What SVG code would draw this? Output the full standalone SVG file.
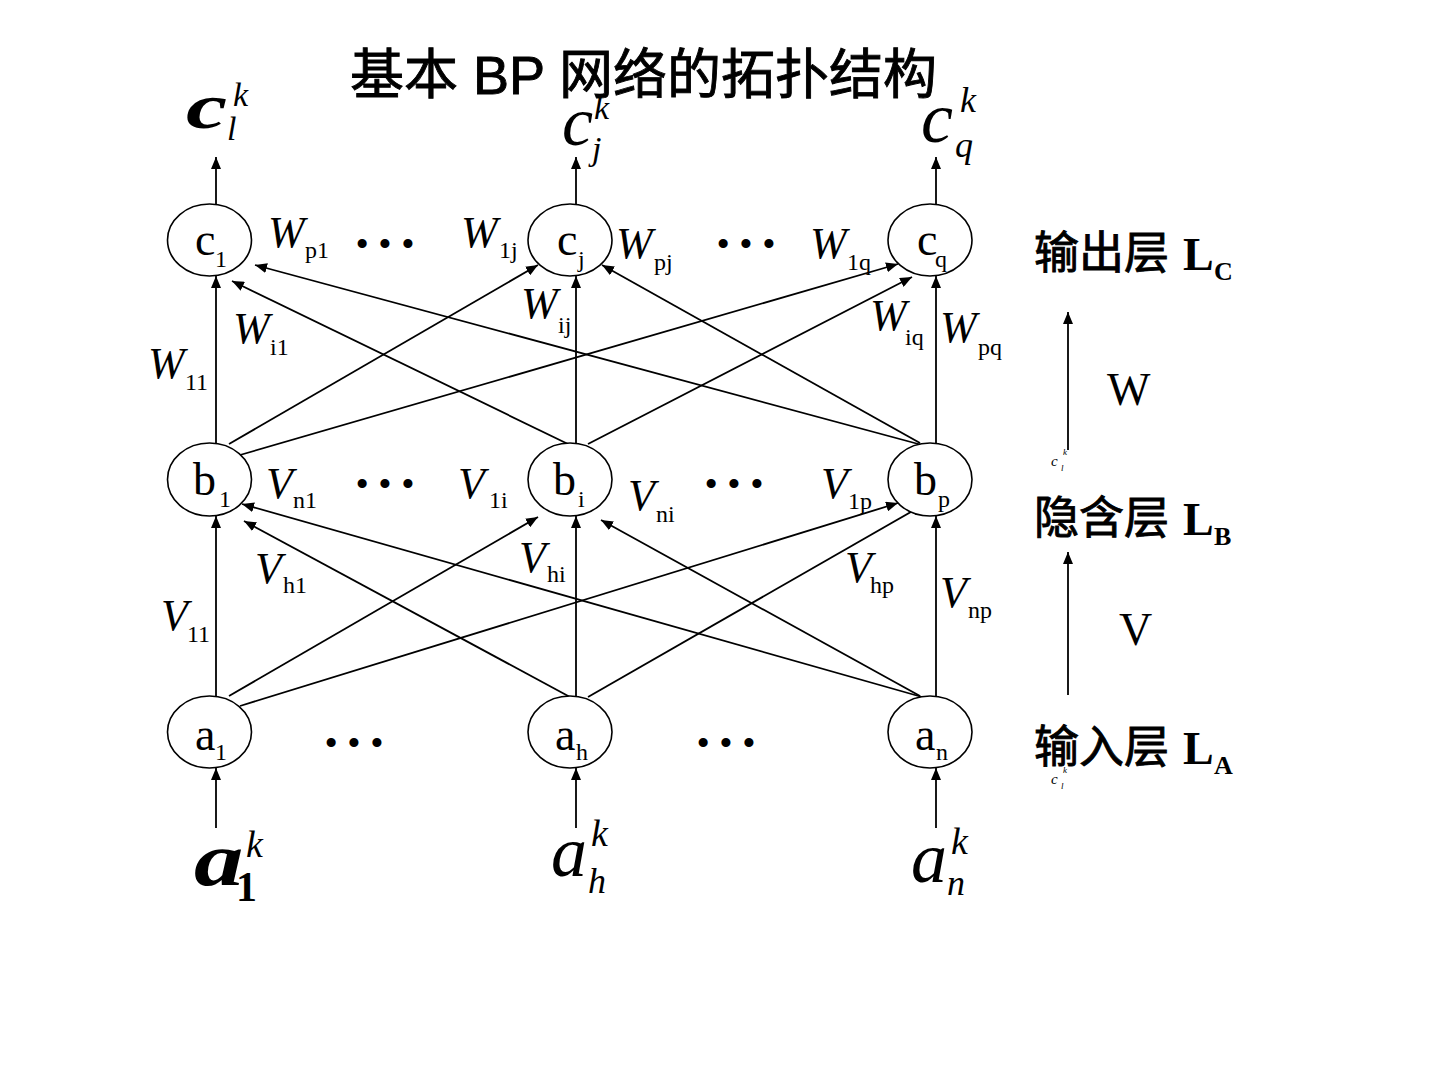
<svg xmlns="http://www.w3.org/2000/svg" width="1440" height="1080" viewBox="0 0 1440 1080">
<style>
.node ellipse{fill:#fff;stroke:#000;stroke-width:1.6}
.t{font-family:"Liberation Serif","Times New Roman",serif;fill:#000}
.lab{font-size:46px}
.sub{font-size:24px}
.wl{font-size:44px;font-style:italic}
.ws{font-size:24px}
.dots{font-size:38px;text-anchor:middle}
.cjk{font-family:"Noto Sans CJK SC","Noto Sans CJK TC",sans-serif;fill:#000;stroke:#000;stroke-width:0.9}
#connectors line{stroke:#000;stroke-width:1.8;fill:none}
.arr{marker-end:url(#ah)}
</style>
<defs>
<marker id="ah" viewBox="0 0 12 10" refX="12" refY="5" markerWidth="12" markerHeight="10" markerUnits="userSpaceOnUse" orient="auto">
<path d="M0,0 L12,5 L0,10 z" fill="#000"/>
</marker>
</defs>
<rect width="1440" height="1080" fill="#fff"/>

<text x="350" y="94" font-size="54" class="cjk" style="font-family:'Liberation Sans','Noto Sans CJK SC',sans-serif">基本 BP 网络的拓扑结构</text>

<g id="connectors">
<line class="arr" x1="216" y1="204" x2="216" y2="157"/>
<line class="arr" x1="576" y1="204" x2="576" y2="157"/>
<line class="arr" x1="936" y1="204" x2="936" y2="157"/>

<line class="arr" x1="216" y1="443" x2="216" y2="276"/>
<line class="arr" x1="576" y1="443" x2="576" y2="276"/>
<line class="arr" x1="936" y1="443" x2="936" y2="276"/>
<line class="arr" x1="229" y1="444" x2="538" y2="265"/>
<line class="arr" x1="240" y1="455" x2="898" y2="264"/>
<line class="arr" x1="568" y1="444" x2="232" y2="281"/>
<line class="arr" x1="588" y1="444" x2="912" y2="277"/>
<line class="arr" x1="922" y1="445" x2="255" y2="265"/>
<line class="arr" x1="920" y1="443" x2="602" y2="265"/>

<line class="arr" x1="216" y1="696" x2="216" y2="516"/>
<line class="arr" x1="576" y1="696" x2="576" y2="516"/>
<line class="arr" x1="936" y1="696" x2="936" y2="516"/>
<line class="arr" x1="229" y1="696" x2="538" y2="517"/>
<line class="arr" x1="240" y1="706" x2="898" y2="503"/>
<line class="arr" x1="570" y1="697" x2="244" y2="521"/>
<line class="arr" x1="588" y1="697" x2="923" y2="505"/>
<line class="arr" x1="922" y1="697" x2="242" y2="504"/>
<line class="arr" x1="920" y1="696" x2="601" y2="520"/>

<line class="arr" x1="216" y1="828" x2="216" y2="768"/>
<line class="arr" x1="576" y1="828" x2="576" y2="768"/>
<line class="arr" x1="936" y1="828" x2="936" y2="768"/>

<line class="arr" x1="1068" y1="450" x2="1068" y2="312"/>
<line class="arr" x1="1068" y1="695" x2="1068" y2="552"/>
</g>

<g id="node-c1" class="node"><ellipse cx="209.5" cy="240" rx="42" ry="36"/>
<text class="t lab" x="195" y="255">c</text><text class="t sub" x="215" y="267">1</text></g>
<g id="node-cj" class="node"><ellipse cx="570" cy="240" rx="42" ry="36"/>
<text class="t lab" x="557" y="255">c</text><text class="t sub" x="578" y="267">j</text></g>
<g id="node-cq" class="node"><ellipse cx="930" cy="240" rx="42" ry="36"/>
<text class="t lab" x="917" y="255">c</text><text class="t sub" x="935" y="267">q</text></g>

<g id="node-b1" class="node"><ellipse cx="209.5" cy="479.5" rx="42" ry="36.5"/>
<text class="t lab" x="193" y="495">b</text><text class="t sub" x="219" y="507">1</text></g>
<g id="node-bi" class="node"><ellipse cx="570" cy="479.5" rx="42" ry="36.5"/>
<text class="t lab" x="553" y="495">b</text><text class="t sub" x="578" y="507">i</text></g>
<g id="node-bp" class="node"><ellipse cx="930" cy="479.5" rx="42" ry="36.5"/>
<text class="t lab" x="914" y="495">b</text><text class="t sub" x="938" y="507">p</text></g>

<g id="node-a1" class="node"><ellipse cx="209.5" cy="732" rx="42" ry="36"/>
<text class="t lab" x="195" y="750">a</text><text class="t sub" x="215" y="760">1</text></g>
<g id="node-ah" class="node"><ellipse cx="570" cy="732" rx="42" ry="36"/>
<text class="t lab" x="555" y="750">a</text><text class="t sub" x="576" y="760">h</text></g>
<g id="node-an" class="node"><ellipse cx="930" cy="732" rx="42" ry="36"/>
<text class="t lab" x="915" y="750">a</text><text class="t sub" x="936" y="760">n</text></g>

<g id="outputs">
<text class="t" transform="translate(186,128) scale(1.45,1)" font-size="64" font-style="italic" font-weight="bold">c</text>
<text class="t" x="227" y="140" font-size="34" font-style="italic">l</text>
<text class="t" x="233" y="106" font-size="34" font-style="italic">k</text>
<text class="t" x="562" y="145" font-size="70" font-style="italic">c</text>
<text class="t" x="594" y="119" font-size="34" font-style="italic">k</text>
<text class="t" x="592" y="160" font-size="34" font-style="italic">j</text>
<text class="t" x="921" y="142" font-size="72" font-style="italic">c</text>
<text class="t" x="960" y="112" font-size="36" font-style="italic">k</text>
<text class="t" x="955" y="157" font-size="36" font-style="italic">q</text>
</g>

<g id="inputs">
<text class="t" transform="translate(194,885) scale(1.3,1)" font-size="76" font-style="italic" font-weight="bold">a</text>
<text class="t" x="236" y="901" font-size="42" font-weight="bold">1</text>
<text class="t" x="246" y="857" font-size="38" font-style="italic">k</text>
<text class="t" x="551" y="876" font-size="72" font-style="italic">a</text>
<text class="t" x="591" y="846" font-size="38" font-style="italic">k</text>
<text class="t" x="588" y="893" font-size="36" font-style="italic">h</text>
<text class="t" x="911" y="882" font-size="72" font-style="italic">a</text>
<text class="t" x="951" y="854" font-size="38" font-style="italic">k</text>
<text class="t" x="947" y="895" font-size="36" font-style="italic">n</text>
</g>

<g id="weights-W">
<text class="t wl" x="268" y="247">W</text><text class="t ws" x="305" y="258">p1</text>
<text class="t wl" x="461" y="247">W</text><text class="t ws" x="499" y="258">1j</text>
<text class="t wl" x="616" y="258">W</text><text class="t ws" x="654" y="270">pj</text>
<text class="t wl" x="810" y="258">W</text><text class="t ws" x="847" y="270">1q</text>
<text class="t wl" x="521" y="318">W</text><text class="t ws" x="558" y="333">ij</text>
<text class="t wl" x="233" y="343">W</text><text class="t ws" x="270" y="355">i1</text>
<text class="t wl" x="148" y="378">W</text><text class="t ws" x="185" y="390">11</text>
<text class="t wl" x="870" y="330">W</text><text class="t ws" x="905" y="345">iq</text>
<text class="t wl" x="940" y="342">W</text><text class="t ws" x="978" y="355">pq</text>
</g>

<g id="weights-V">
<text class="t wl" x="266" y="498">V</text><text class="t ws" x="293" y="508">n1</text>
<text class="t wl" x="458" y="498">V</text><text class="t ws" x="489" y="508">1i</text>
<text class="t wl" x="628" y="510">V</text><text class="t ws" x="656" y="522">ni</text>
<text class="t wl" x="821" y="498">V</text><text class="t ws" x="848" y="509">1p</text>
<text class="t wl" x="519" y="572">V</text><text class="t ws" x="547" y="582">hi</text>
<text class="t wl" x="255" y="583">V</text><text class="t ws" x="283" y="593">h1</text>
<text class="t wl" x="845" y="582">V</text><text class="t ws" x="870" y="593">hp</text>
<text class="t wl" x="940" y="607">V</text><text class="t ws" x="968" y="618">np</text>
<text class="t wl" x="161" y="630">V</text><text class="t ws" x="187" y="642">11</text>
</g>

<g id="ellipsis">
<text class="t dots" x="385" y="257">• • •</text>
<text class="t dots" x="746" y="257">• • •</text>
<text class="t dots" x="385" y="497">• • •</text>
<text class="t dots" x="734" y="497">• • •</text>
<text class="t dots" x="354" y="756" font-size="44">• • •</text>
<text class="t dots" x="726" y="756" font-size="44">• • •</text>
</g>

<g id="layer-labels">
<text class="cjk" x="1034" y="269" font-size="45">输出层</text>
<text class="t" x="1183" y="270" font-size="46" font-weight="bold">L</text>
<text class="t" x="1214" y="280" font-size="26" font-weight="bold">C</text>
<text class="cjk" x="1034" y="534" font-size="45">隐含层</text>
<text class="t" x="1183" y="535" font-size="46" font-weight="bold">L</text>
<text class="t" x="1214" y="545" font-size="26" font-weight="bold">B</text>
<text class="cjk" x="1034" y="763" font-size="45">输入层</text>
<text class="t" x="1183" y="764" font-size="46" font-weight="bold">L</text>
<text class="t" x="1214" y="774" font-size="26" font-weight="bold">A</text>
<text class="t" x="1107" y="405" font-size="46">W</text>
<text class="t" x="1119" y="645" font-size="46">V</text>
<text class="t" x="1051" y="466" font-size="15" font-style="italic">c</text>
<text class="t" x="1063" y="455" font-size="9" font-style="italic">k</text>
<text class="t" x="1061" y="471" font-size="9" font-style="italic">l</text>
<text class="t" x="1051" y="784" font-size="15" font-style="italic">c</text>
<text class="t" x="1063" y="773" font-size="9" font-style="italic">k</text>
<text class="t" x="1061" y="789" font-size="9" font-style="italic">l</text>
</g>
</svg>
